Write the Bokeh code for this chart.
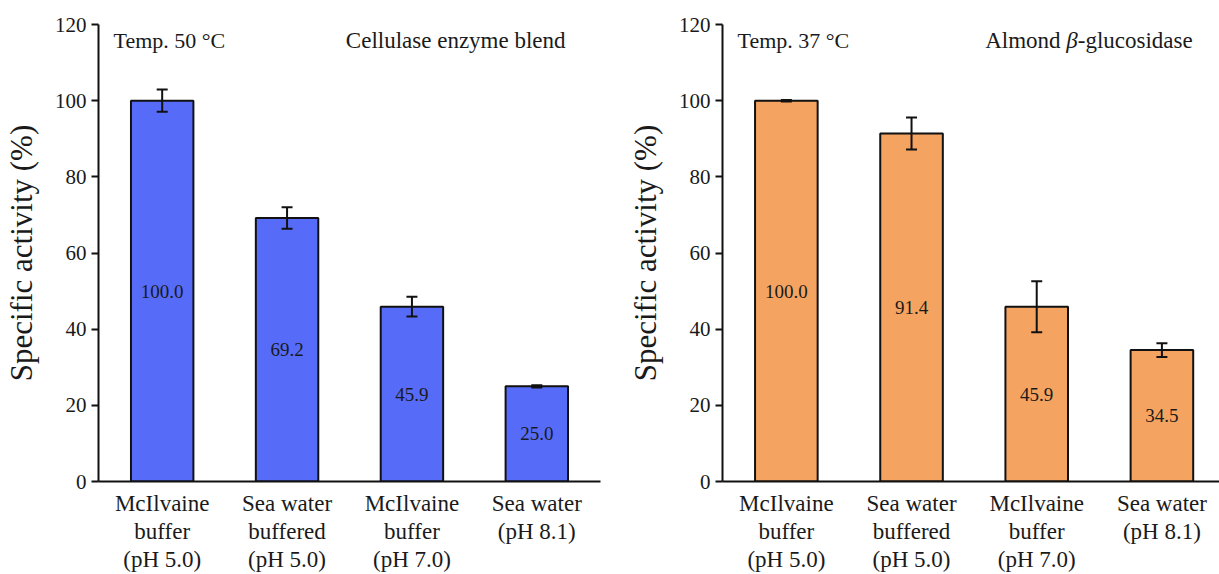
from bokeh.plotting import figure
from bokeh.layouts import row
from bokeh.models import ColumnDataSource, Range1d, FixedTicker, Whisker, TeeHead, Label
from bokeh.core.properties import value
from bokeh.embed import file_html
from bokeh.resources import INLINE

categories = ["McIlvaine\nbuffer\n(pH 5.0)", "Sea water\nbuffered\n(pH 5.0)",
              "McIlvaine\nbuffer\n(pH 7.0)", "Sea water\n(pH 8.1)"]
positions = [1, 2, 3, 4]
cellulase = [100.0, 69.2, 45.9, 25.0]
cellulase_err = [2.9, 2.8, 2.6, 0.3]
glucosidase = [100.0, 91.4, 45.9, 34.5]
glucosidase_err = [0.2, 4.2, 6.7, 1.8]
y_ticks = [0, 20, 40, 60, 80, 100, 120]

FONT = "'Liberation Serif', 'Times New Roman', serif"
TXT = "#1a1a1a"


def make_panel(vals, errs, color, temp_text, left_border, right_border, width, xr):
    src = ColumnDataSource(dict(
        x=positions, top=vals,
        upper=[v + e for v, e in zip(vals, errs)],
        lower=[v - e for v, e in zip(vals, errs)],
        mid=[v / 2 for v in vals],
        lab=["%.1f" % v for v in vals],
    ))
    p = figure(width=width, height=574, output_backend="svg", toolbar_location=None,
               x_range=Range1d(*xr), y_range=Range1d(0, 120),
               min_border_left=left_border, min_border_right=right_border,
               min_border_top=24, min_border_bottom=92)
    p.outline_line_color = None
    p.grid.visible = False
    p.background_fill_color = "white"
    p.border_fill_color = "white"

    p.vbar(x="x", top="top", width=0.5, bottom=0, source=src,
           fill_color=color, line_color="#111111", line_width=2)
    w = Whisker(base="x", upper="upper", lower="lower", source=src, level="overlay",
                line_color="#111111", line_width=2,
                upper_head=TeeHead(size=11, line_width=2, line_color="#111111"),
                lower_head=TeeHead(size=11, line_width=2, line_color="#111111"))
    p.add_layout(w)
    p.text(x="x", y="mid", text="lab", source=src, text_align="center",
           text_baseline="middle", text_font=value(FONT), text_font_size="19px",
           text_color=TXT)

    ya = p.yaxis[0]
    ya.ticker = FixedTicker(ticks=y_ticks)
    ya.axis_label = "Specific activity (%)"
    ya.axis_label_text_font = FONT
    ya.axis_label_text_font_style = "normal"
    ya.axis_label_text_font_size = "31px"
    ya.axis_label_text_color = TXT
    ya.axis_label_standoff = 13
    ya.major_label_text_font = FONT
    ya.major_label_text_font_size = "21px"
    ya.major_label_text_color = TXT
    ya.major_label_standoff = 5
    ya.major_tick_out = 7
    ya.major_tick_in = 0
    ya.minor_tick_out = 0
    ya.minor_tick_in = 0
    ya.axis_line_width = 2
    ya.axis_line_color = "#111111"
    ya.major_tick_line_width = 2
    ya.major_tick_line_color = "#111111"

    xa = p.xaxis[0]
    xa.ticker = FixedTicker(ticks=positions)
    xa.major_label_overrides = {pos: c for pos, c in zip(positions, categories)}
    xa.major_label_text_font = FONT
    xa.major_label_text_font_size = "23px"
    xa.major_label_text_color = TXT
    xa.major_label_text_line_height = 1.12
    xa.major_label_standoff = 9
    xa.major_tick_out = 0
    xa.major_tick_in = 0
    xa.minor_tick_out = 0
    xa.minor_tick_in = 0
    xa.axis_line_width = 2
    xa.axis_line_color = "#111111"

    p.add_layout(Label(x=xr[0], y=115.8, x_offset=15, text=temp_text,
                       text_font=FONT, text_font_size="22px", text_color=TXT,
                       text_baseline="middle", text_align="left"))
    return p


left = make_panel(cellulase, cellulase_err, "#566CF8", "Temp. 50 °C", 96, 10, 610, (0.49, 4.51))
left.add_layout(Label(x=4.23, y=115.8, text="Cellulase enzyme blend",
                      text_font=FONT, text_font_size="23px", text_color=TXT,
                      text_baseline="middle", text_align="right"))

right = make_panel(glucosidase, glucosidase_err, "#F4A460", "Temp. 37 °C", 112, 0, 609, (0.49, 4.46))
x0 = 1 + (985 - 786) / 125.3
right.add_layout(Label(x=x0, y=115.8, text="Almond ", text_font=FONT,
                       text_font_size="23px", text_color=TXT,
                       text_baseline="middle", text_align="left"))
right.add_layout(Label(x=x0, y=115.8, x_offset=81.1, text="β", text_font=FONT,
                       text_font_style="italic", text_font_size="23px", text_color=TXT,
                       text_baseline="middle", text_align="left"))
right.add_layout(Label(x=x0, y=115.8, x_offset=92.6, text="-glucosidase", text_font=FONT,
                       text_font_size="23px", text_color=TXT,
                       text_baseline="middle", text_align="left"))

layout = row(left, right, spacing=0)
open("out.html", "w").write(file_html(layout, INLINE))
